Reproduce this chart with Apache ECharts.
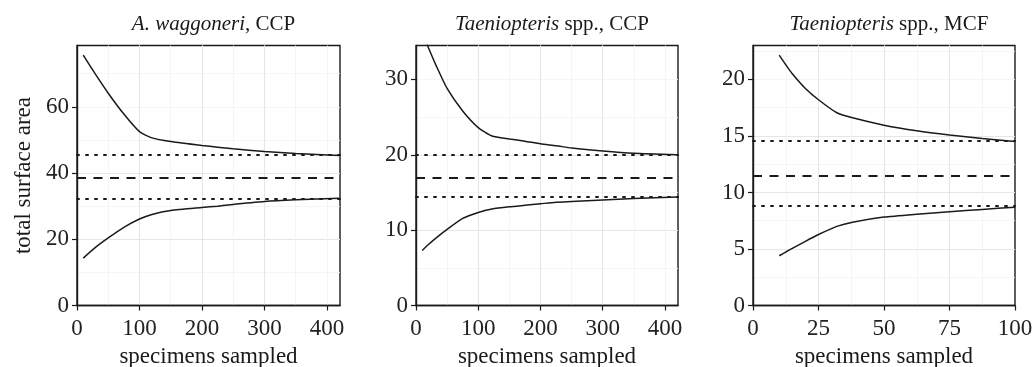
<!DOCTYPE html>
<html>
<head>
<meta charset="utf-8">
<script src="https://cdn.jsdelivr.net/npm/echarts@6/dist/echarts.min.js"></script>
<style>
  html, body { margin: 0; padding: 0; background: #fff; }
  #chart { width: 1035px; height: 367px; }
</style>
</head>
<body>
<div id="chart"></div>
<script>
// --- data ---
const panelTitles = ["{i|A. waggoneri}, CCP", "{i|Taeniopteris} spp., CCP", "{i|Taeniopteris} spp., MCF"];

const xA = [10, 30, 50, 75, 100, 120, 150, 200, 225, 250, 300, 350, 420];
const upperA = [75.6, 69.7, 64.1, 57.8, 52.5, 50.6, 49.5, 48.3, 47.8, 47.3, 46.5, 45.9, 45.3];
const lowerA = [14.3, 17.6, 20.4, 23.6, 26.1, 27.5, 28.7, 29.6, 30.0, 30.5, 31.4, 31.9, 32.4];
const refA = { mean: 38.5, hi: 45.4, lo: 32.3 };

const xB = [10, 20, 32, 50, 75, 100, 122, 150, 175, 200, 225, 250, 300, 350, 420];
const upperB = [36.2, 34.2, 31.9, 28.8, 25.8, 23.6, 22.5, 22.1, 21.8, 21.45, 21.2, 20.9, 20.5, 20.2, 20.0];
const lowerB = [7.3, 8.1, 8.95, 10.1, 11.55, 12.35, 12.8, 13.1, 13.3, 13.5, 13.7, 13.8, 14.0, 14.2, 14.4];
const refB = { mean: 17.0, hi: 20.0, lo: 14.4 };

const xC = [10, 12.5, 15, 20, 25, 32, 38, 50, 62.5, 75, 87.5, 100];
const upperC = [22.15, 21.3, 20.5, 19.2, 18.2, 17.05, 16.6, 15.95, 15.45, 15.08, 14.78, 14.5];
const lowerC = [4.4, 4.73, 5.05, 5.68, 6.28, 7.0, 7.37, 7.82, 8.08, 8.3, 8.5, 8.7];
const refC = { mean: 11.5, hi: 14.55, lo: 8.8 };

const xTicks = [[0, 100, 200, 300, 400], [0, 100, 200, 300, 400], [0, 25, 50, 75, 100]];
const yTicks = [[0, 20, 40, 60], [0, 10, 20, 30], [0, 5, 10, 15, 20]];

// layout of each panel (px)
const panels = [
  { left: 77, width: 263, xMax: 421, xStep: 100, yMax: 78.5, yStep: 20, x: xA, up: upperA, lo: lowerA, ref: refA },
  { left: 416, width: 262, xMax: 421, xStep: 100, yMax: 34.5, yStep: 10, x: xB, up: upperB, lo: lowerB, ref: refB },
  { left: 753, width: 262, xMax: 100, xStep: 25, yMax: 23, yStep: 5, x: xC, up: upperC, lo: lowerC, ref: refC }
];
const TOP = 45.5, HEIGHT = 260;

const FONT = "Liberation Serif";
const INK = "#1a1a1a";

const grids = [], xAxes = [], yAxes = [], series = [], titles = [];

panels.forEach((p, i) => {
  grids.push({
    left: p.left, top: TOP, width: p.width, height: HEIGHT,
    show: true, borderColor: INK, borderWidth: 1.4,
    containLabel: false, outerBoundsMode: "none"
  });

  const minorSplit = { show: true, showMinLine: false, showMaxLine: false, lineStyle: { color: "#f2f2f2", width: 0.8 } };
  const majorSplit = { show: true, showMinLine: false, showMaxLine: false, lineStyle: { color: "#e6e6e6", width: 1.2 } };

  // minor grid axes (first so majors paint over); parked on top/right, invisible
  xAxes.push({
    gridIndex: i, type: "value", position: "top", min: 0, max: p.xMax, interval: p.xStep / 2,
    axisLine: { show: false }, axisTick: { show: false }, axisLabel: { show: false },
    splitLine: minorSplit
  });
  yAxes.push({
    gridIndex: i, type: "value", position: "right", min: 0, max: p.yMax, interval: p.yStep / 2,
    axisLine: { show: false }, axisTick: { show: false }, axisLabel: { show: false },
    splitLine: minorSplit
  });

  xAxes.push({
    gridIndex: i, type: "value", position: "bottom", min: 0, max: p.xMax, interval: p.xStep,
    name: "specimens sampled", nameLocation: "middle", nameGap: 37,
    nameTextStyle: { fontFamily: FONT, fontSize: 23, color: INK },
    axisLine: { show: true, onZero: false, lineStyle: { color: INK, width: 1.4 } },
    axisTick: { show: true, length: 5, customValues: xTicks[i], lineStyle: { color: INK, width: 1.2 } },
    axisLabel: { customValues: xTicks[i], margin: 12, fontFamily: FONT, fontSize: 23, color: "#222" },
    splitLine: majorSplit
  });
  yAxes.push({
    gridIndex: i, type: "value", position: "left", min: 0, max: p.yMax, interval: p.yStep,
    name: i === 0 ? "total surface area" : "", nameLocation: "middle", nameGap: 42,
    nameTextStyle: { fontFamily: FONT, fontSize: 23, color: INK },
    axisLine: { show: true, onZero: false, lineStyle: { color: INK, width: 1.4 } },
    axisTick: { show: true, length: 5, customValues: yTicks[i], lineStyle: { color: INK, width: 1.2 } },
    axisLabel: { customValues: yTicks[i], margin: 8, fontFamily: FONT, fontSize: 23, color: "#222" },
    splitLine: majorSplit
  });

  const xi = i * 2 + 1, yi = i * 2 + 1;
  const curve = (ys) => ({
    type: "line", xAxisIndex: xi, yAxisIndex: yi,
    data: p.x.map((x, k) => [x, ys[k]]),
    showSymbol: false, smooth: 0.2, clip: true,
    lineStyle: { color: INK, width: 1.5 }, z: 3
  });
  const s1 = curve(p.up);
  s1.markLine = {
    silent: true, symbol: "none", label: { show: false },
    data: [
      { yAxis: p.ref.hi, lineStyle: { type: [2, 7], color: INK, width: 2, cap: "round" } },
      { yAxis: p.ref.mean, lineStyle: { type: [9, 7.5], color: INK, width: 1.8 } },
      { yAxis: p.ref.lo, lineStyle: { type: [2, 7], color: INK, width: 2, cap: "round" } }
    ]
  };
  series.push(s1, curve(p.lo));

  titles.push({
    text: panelTitles[i],
    left: p.left + p.width / 2, top: 9, textAlign: "center",
    textStyle: {
      fontFamily: FONT, fontSize: 21, fontWeight: "normal", color: INK,
      rich: { i: { fontFamily: FONT, fontSize: 21, fontStyle: "italic", color: INK } }
    }
  });
});

const chart = echarts.init(document.getElementById("chart"), null, { renderer: "canvas" });
chart.setOption({
  backgroundColor: "#fff",
  animation: false,
  title: titles,
  grid: grids,
  xAxis: xAxes,
  yAxis: yAxes,
  series: series
});
</script>
</body>
</html>
